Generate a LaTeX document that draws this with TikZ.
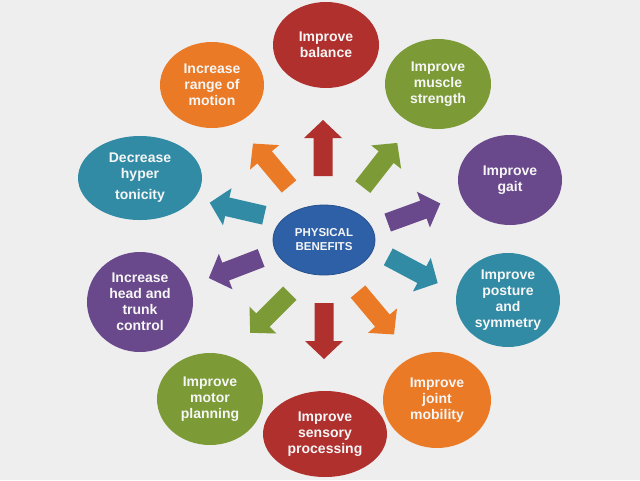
\documentclass[tikz,border=0pt]{standalone}
\usepackage{fontspec}
\setmainfont{Liberation Sans}
\usetikzlibrary{shapes.geometric}
\definecolor{bg}{RGB}{238,238,238}
\definecolor{cred}{RGB}{176,48,46}
\definecolor{corange}{RGB}{234,122,38}
\definecolor{cgreen}{RGB}{124,155,54}
\definecolor{cpurple}{RGB}{105,73,140}
\definecolor{cteal}{RGB}{49,139,165}
\definecolor{cblue}{RGB}{46,96,168}
\definecolor{ctext}{RGB}{246,246,246}
\newcommand{\blockarrow}[3]{%
  \fill[#1, shift={(#2)}, rotate=#3]
    (-28,-9.5) -- (10,-9.5) -- (10,-19) -- (28,0) -- (10,19) -- (10,9.5) -- (-28,9.5) -- cycle;}
\begin{document}
\begin{tikzpicture}[x=1pt,y=-1pt,
  blob/.style={ellipse, inner sep=0pt, text=ctext, align=center,
    font=\bfseries\fontsize{14}{16}\selectfont},
  hub/.style={ellipse, inner sep=0pt, text=ctext, align=center, fill=cblue,
    draw=cblue!85!black, line width=0.8pt,
    font=\bfseries\fontsize{11.5}{14}\selectfont}]
\fill[bg] (0,0) rectangle (640,480);
\useasboundingbox (0,0) rectangle (640,480);

% centre
\node[hub, minimum width=102pt, minimum height=70pt] (center) at (324,240) {PHYSICAL\\BENEFITS};

% outer ellipses
\node[blob, fill=cred,    minimum width=106pt, minimum height=86pt] (balance)  at (326,45)  {Improve\\balance};
\node[blob, fill=cgreen,  minimum width=106pt, minimum height=90pt] (muscle)   at (438,84)  {Improve\\muscle\\strength};
\node[blob, fill=cpurple, minimum width=104pt, minimum height=90pt] (gait)     at (510,180) {Improve\\gait};
\node[blob, fill=cteal,   minimum width=104pt, minimum height=94pt] (posture)  at (508,300) {Improve\\posture\\and\\symmetry};
\node[blob, fill=corange, minimum width=108pt, minimum height=96pt] (joint)    at (437,400) {Improve\\joint\\mobility};
\node[blob, fill=cred,    minimum width=124pt, minimum height=86pt] (sensory)  at (325,434) {Improve\\sensory\\processing};
\node[blob, fill=cgreen,  minimum width=106pt, minimum height=92pt] (motor)    at (210,399) {Improve\\motor\\planning};
\node[blob, fill=cpurple, minimum width=106pt, minimum height=100pt] (trunk)   at (140,302) {Increase\\head and\\trunk\\control};
\node[blob, fill=cteal,   minimum width=124pt, minimum height=84pt] (hyper)    at (140,178) {Decrease\\hyper\\[5pt]tonicity};
\node[blob, fill=corange, minimum width=104pt, minimum height=86pt] (range)    at (212,85)  {Increase\\range of\\motion};

% block arrows
\blockarrow{cred}{323,148}{90}
\blockarrow{cgreen}{380,165}{52}
\blockarrow{corange}{271,165}{130}
\blockarrow{cpurple}{414,213}{20}
\blockarrow{cteal}{237,209}{167}
\blockarrow{cteal}{413,270}{-28}
\blockarrow{cpurple}{235,268}{-159}
\blockarrow{cgreen}{270,313}{-135}
\blockarrow{cred}{324,331}{-90}
\blockarrow{corange}{376,313}{-50}
\end{tikzpicture}
\end{document}
